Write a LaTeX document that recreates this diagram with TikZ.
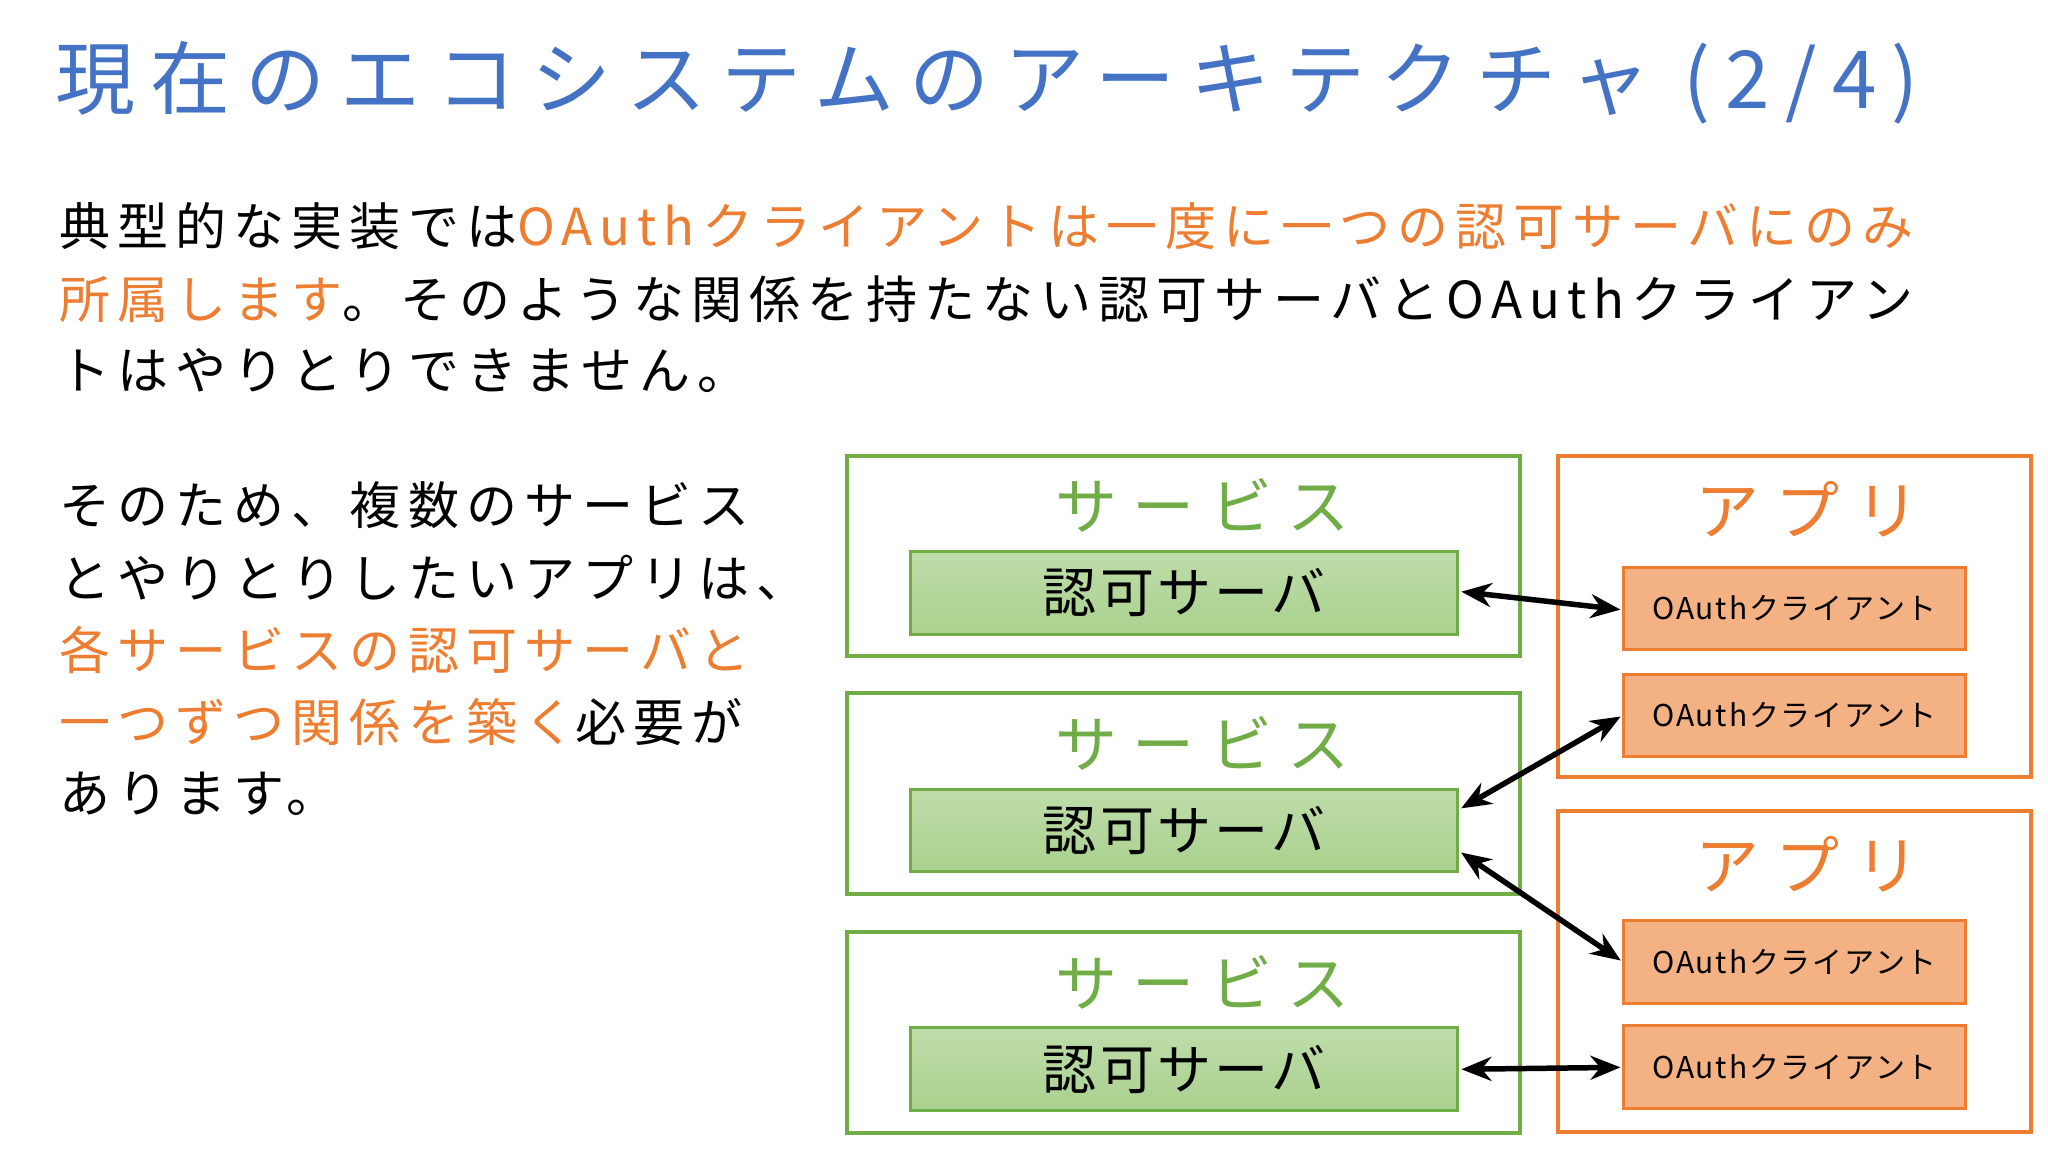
\documentclass[tikz,border=0pt]{standalone}
\usepackage{fontspec}
\setmainfont{Noto Sans CJK JP}
\newfontfamily\ttl[LetterSpace=19]{Noto Sans CJK JP}
\newfontfamily\bod[LetterSpace=14]{Noto Sans CJK JP}
\newfontfamily\svc[LetterSpace=25]{Noto Sans CJK JP}
\newfontfamily\aut[LetterSpace=6]{Noto Sans CJK JP}
\usetikzlibrary{arrows.meta}
\definecolor{tblue}{RGB}{68,114,196}
\definecolor{tor}{RGB}{237,125,49}
\definecolor{tgr}{RGB}{112,173,71}
\definecolor{lgr}{RGB}{169,209,142}
\definecolor{lor}{RGB}{244,177,131}
\tikzset{
 svcbox/.style={draw=tgr,line width=4pt},
 appbox/.style={draw=tor,line width=4pt},
 authbox/.style={draw=tgr,line width=3pt,top color=lgr!75!white,bottom color=lgr,minimum width=417*1.3128pt,minimum height=63*1.3128pt,font=\aut\fontsize{54}{60}\selectfont,inner sep=0},
 clibox/.style={draw=tor,line width=3pt,fill=lor,minimum width=260*1.3128pt,minimum height=63*1.3128pt,font=\aut\fontsize{30}{36}\selectfont,inner sep=0},
 ln/.style={anchor=west,inner sep=0,font=\bod\fontsize{51}{56}\selectfont},
 lnk/.style={{Stealth[length=30pt,width=24pt]}-{Stealth[length=30pt,width=24pt]},line width=5.5pt,shorten <=2pt,shorten >=2pt}
}
\begin{document}
\begin{tikzpicture}[x=1.3128pt,y=-1.3128pt]
\useasboundingbox[fill=white] (0,0) rectangle (1560,877.5);
\node[anchor=west,inner sep=0,text=tblue,font=\ttl\fontsize{80}{90}\selectfont] (title) at (42,63) {現在のエコシステムのアーキテクチャ (2/4)};
\node[ln] (p1) at (45,172) {典型的な実装では\textcolor{tor}{OAuthクライアントは一度に一つの認可サーバにのみ}};
\node[ln] (p2) at (45,228) {\textcolor{tor}{所属します}。そのような関係を持たない認可サーバとOAuthクライアン};
\node[ln] (p3) at (45,282) {トはやりとりできません。};
\node[ln] (q1) at (45,385) {そのため、複数のサービス};
\node[ln] (q2) at (45,440) {とやりとりしたいアプリは、};
\node[ln] (q3) at (45,495) {\textcolor{tor}{各サービスの認可サーバと}};
\node[ln] (q4) at (45,550) {\textcolor{tor}{一つずつ関係を築く}必要が};
\node[ln] (q5) at (45,605) {あります。};
\foreach \i/\y in {1/347,2/528,3/710}{
 \draw[svcbox] (645,\y) rectangle (1158,\y+153);
 \node[text=tgr,font=\svc\fontsize{62}{70}\selectfont] (st\i) at (916,\y+38) {サービス};
 \node[authbox] (as\i) at (902,\y+104.5) {認可サーバ};
}
\draw[appbox] (1187,347) rectangle (1547,592);
\draw[appbox] (1187,618) rectangle (1547,862);
\node[text=tor,font=\svc\fontsize{64}{70}\selectfont] (a1) at (1377,388) {アプリ};
\node[text=tor,font=\svc\fontsize{64}{70}\selectfont] (a2) at (1377,658) {アプリ};
\node[clibox] (c1) at (1367,463.5) {OAuthクライアント};
\node[clibox] (c2) at (1367,545) {OAuthクライアント};
\node[clibox] (c3) at (1367,732.5) {OAuthクライアント};
\node[clibox] (c4) at (1367,813) {OAuthクライアント};
\draw[lnk] ([yshift=1*1.3128pt]as1.east) -- ([yshift=-1*1.3128pt]c1.west);
\draw[lnk] ([yshift=16*1.3128pt]as2.east) -- (c2.west);
\draw[lnk] ([yshift=-16*1.3128pt]as2.east) -- (c3.west);
\draw[lnk] (as3.east) -- (c4.west);
\end{tikzpicture}
\end{document}
